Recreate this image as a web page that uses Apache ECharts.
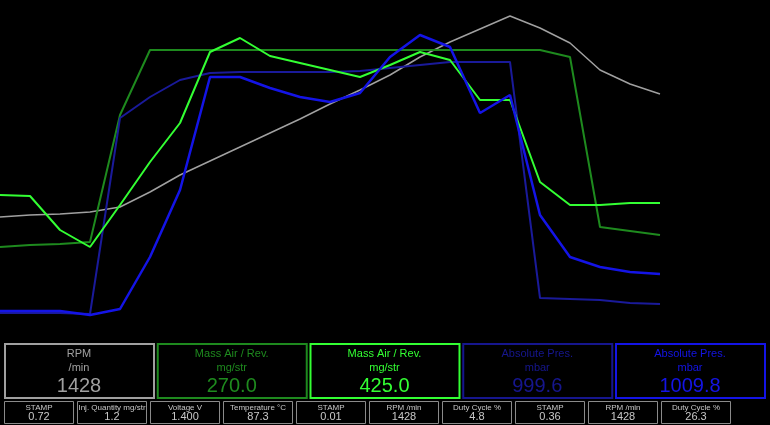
<!DOCTYPE html>
<html><head><meta charset="utf-8">
<script src="https://cdn.jsdelivr.net/npm/echarts@6/dist/echarts.min.js"></script>
<style>html,body{margin:0;padding:0;background:#000;}#c{width:770px;height:425px;}</style>
</head><body><div id="c"></div>
<script>
// samples (x index) and channel values (relative height units, 0..340)
var samples = Array.from({length: 23}, function(_, i){ return String(i); });
var rpm      = [123,125,126,128,133,148,165,179,193,207,221,236,250,265,283,298,311,324,312,297,270,256,246];
var massAir1 = [93,95,96,98,225,290,290,290,290,290,290,290,290,290,290,290,290,290,290,283,113,109,105];
var absPres1 = [27,27,27,26,222,243,260,267,268,268,268,268,269,272,275,278,278,278,42,41,40,37,36];
var massAir2 = [145,144,110,93,135,178,217,288,302,284,277,270,263,275,288,280,240,240,158,135,135,137,137];
var absPres2 = [29,29,29,25,31,83,150,263,263,252,243,238,247,283,305,293,227,245,125,83,73,68,66];

// big gauges
var bigTitles = ['RPM', 'Mass Air / Rev.', 'Mass Air / Rev.', 'Absolute Pres.', 'Absolute Pres.'];
var bigUnits  = ['/min', 'mg/str', 'mg/str', 'mbar', 'mbar'];
var bigValues = ['1428', '270.0', '425.0', '999.6', '1009.8'];
// small readouts
var smallLabels = ['STAMP', 'Inj. Quantity mg/str', 'Voltage V', 'Temperature \u00b0C', 'STAMP', 'RPM /min', 'Duty Cycle %', 'STAMP', 'RPM /min', 'Duty Cycle %'];
var smallValues = ['0.72', '1.2', '1.400', '87.3', '0.01', '1428', '4.8', '0.36', '1428', '26.3'];

var colors = ['#a0a0a0', '#1e8a1e', '#1a1a9a', '#33ff33', '#1414e6'];
var seriesData = [rpm, massAir1, absPres1, massAir2, absPres2];
var widths = [1.5, 2, 2, 2, 2.5];
var gaugeColors = ['#a0a0a0', '#1e8a1e', '#33ff33', '#16168e', '#1414e6'];

var graphics = [];
for (var i = 0; i < 5; i++) {
  var x0 = 4 + i * 152.75;
  graphics.push({type:'rect', shape:{x:x0+1, y:344, width:149, height:54}, style:{fill:'#000', stroke:gaugeColors[i], lineWidth:2}});
  graphics.push({type:'text', x:x0+75, y:354, style:{text:bigTitles[i], fill:gaugeColors[i], font:'11px "Liberation Sans", Arial, sans-serif', align:'center', verticalAlign:'middle'}});
  graphics.push({type:'text', x:x0+75, y:368, style:{text:bigUnits[i], fill:gaugeColors[i], font:'11px "Liberation Sans", Arial, sans-serif', align:'center', verticalAlign:'middle'}});
  graphics.push({type:'text', x:x0+75, y:386, style:{text:bigValues[i], fill:gaugeColors[i], font:'20px "Liberation Sans", Arial, sans-serif', align:'center', verticalAlign:'middle'}});
}
for (var j = 0; j < smallLabels.length; j++) {
  var sx = 4 + j * 73;
  graphics.push({type:'rect', shape:{x:sx+0.5, y:401.5, width:69, height:22}, style:{fill:'#000', stroke:'#8a8a8a', lineWidth:1}});
  graphics.push({type:'text', x:sx+35, y:408, style:{text:smallLabels[j], fill:'#c8c8c8', font:'8px "Liberation Sans", Arial, sans-serif', align:'center', verticalAlign:'middle'}});
  graphics.push({type:'text', x:sx+35, y:417, style:{text:smallValues[j], fill:'#c8c8c8', font:'11px "Liberation Sans", Arial, sans-serif', align:'center', verticalAlign:'middle'}});
}

var chart = echarts.init(document.getElementById('c'));
chart.setOption({
  backgroundColor: '#000',
  animation: false,
  grid: {left: 0, right: 110, top: 0, bottom: 85},
  xAxis: {type:'category', data: samples, boundaryGap:false, show:false},
  yAxis: {type:'value', min:0, max:340, show:false},
  series: seriesData.map(function(d, k){
    return {type:'line', data:d, symbol:'none', smooth:false,
      lineStyle:{color:colors[k], width:widths[k]}, itemStyle:{color:colors[k]}};
  }),
  graphic: graphics
});
</script>
</body></html>
